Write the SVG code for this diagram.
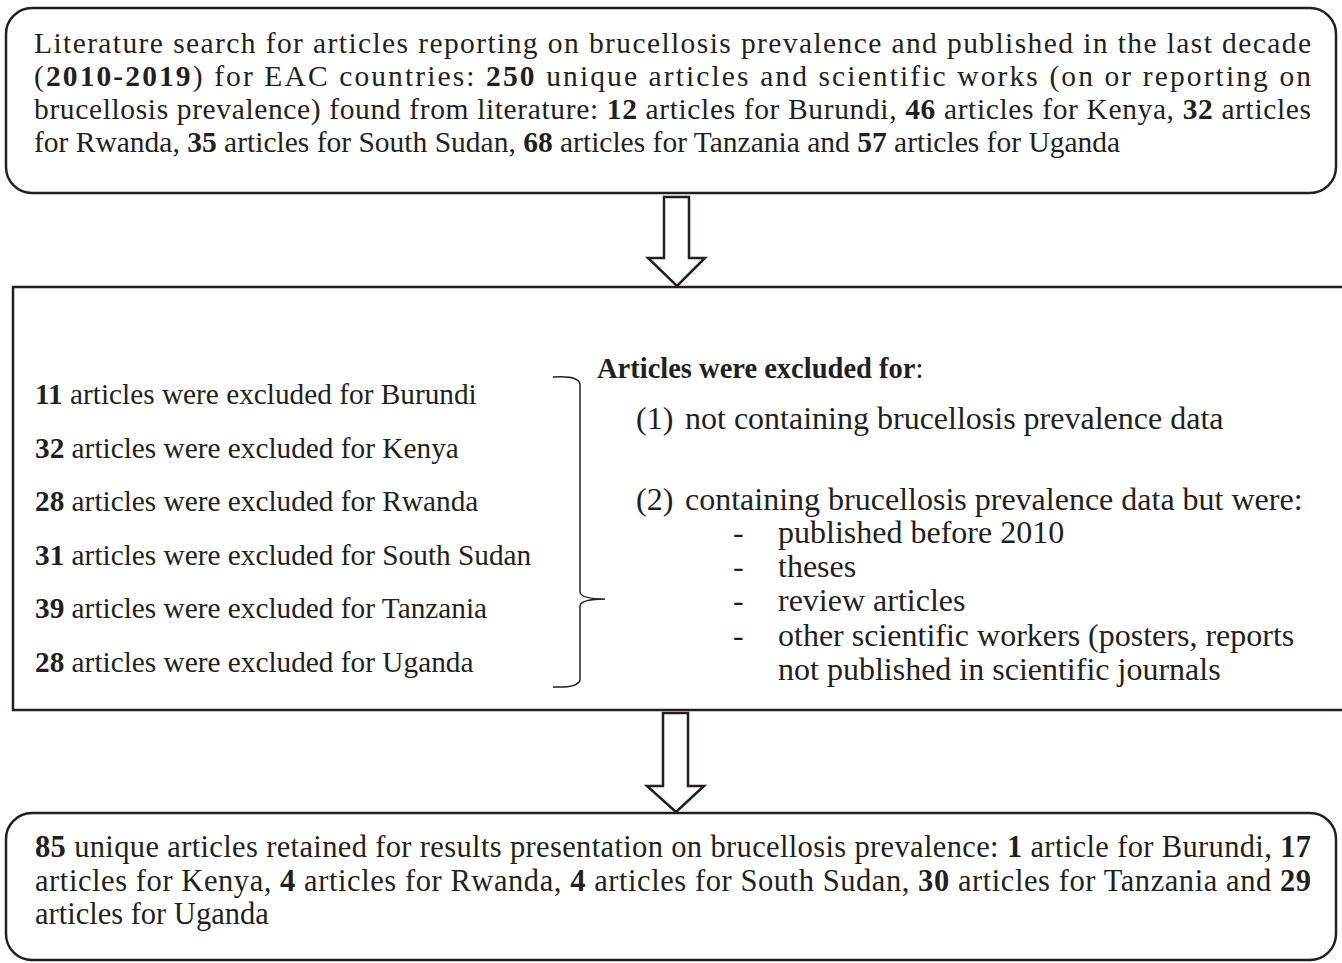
<svg xmlns="http://www.w3.org/2000/svg" width="1342" height="963" viewBox="0 0 1342 963">
<style>
text{font-family:"Liberation Serif","Times New Roman",serif;font-size:29.5px;fill:#231f20}
.b{font-weight:bold}
.l{font-size:29.3px}
.r{font-size:32px}
.h{font-size:28.5px}
.bt{font-size:30.5px}
.box{fill:#fff;stroke:#231f20;stroke-width:2.5}
.arr{fill:#fff;stroke:#231f20;stroke-width:2.5;stroke-linejoin:miter}
.brace{fill:none;stroke:#231f20;stroke-width:1.5}
</style>
<rect width="1342" height="963" fill="#fff"/>
<g id="search">
<rect class="box" x="6" y="8" width="1330" height="185" rx="26" ry="26"/>
<text x="34" y="53" textLength="1277" lengthAdjust="spacing">Literature search for articles reporting on brucellosis prevalence and published in the last decade</text>
<text x="34" y="86" textLength="1277" lengthAdjust="spacing">(<tspan class="b">2010-2019</tspan>) for EAC countries: <tspan class="b">250</tspan> unique articles and scientific works (on or reporting on</text>
<text x="34" y="119" textLength="1277" lengthAdjust="spacing">brucellosis prevalence) found from literature: <tspan class="b">12</tspan> articles for Burundi, <tspan class="b">46</tspan> articles for Kenya, <tspan class="b">32</tspan> articles</text>
<text x="34" y="152">for Rwanda, <tspan class="b">35</tspan> articles for South Sudan, <tspan class="b">68</tspan> articles for Tanzania and <tspan class="b">57</tspan> articles for Uganda</text>
</g>
<g id="excluded">
<rect class="box" x="13" y="287" width="1340" height="423"/>
<text class="l" x="35" y="404"><tspan class="b">11</tspan> articles were excluded for Burundi</text>
<text class="l" x="35" y="458"><tspan class="b">32</tspan> articles were excluded for Kenya</text>
<text class="l" x="35" y="511"><tspan class="b">28</tspan> articles were excluded for Rwanda</text>
<text class="l" x="35" y="565"><tspan class="b">31</tspan> articles were excluded for South Sudan</text>
<text class="l" x="35" y="618"><tspan class="b">39</tspan> articles were excluded for Tanzania</text>
<text class="l" x="35" y="672"><tspan class="b">28</tspan> articles were excluded for Uganda</text>
<path class="brace" d="M553 377 Q578 375 580 384 L580 592 Q581 599 605 599 Q581 599 580 606 L580 680 Q578 688 553 687"/>
<text class="h" x="597" y="378"><tspan class="b">Articles were excluded for</tspan>:</text>
<text class="r" x="636" y="429">(1)</text>
<text class="r" x="685" y="429">not containing brucellosis prevalence data</text>
<text class="r" x="636" y="510">(2)</text>
<text class="r" x="685" y="510">containing brucellosis prevalence data but were:</text>
<text class="r" x="733" y="543">-</text>
<text class="r" x="778" y="543">published before 2010</text>
<text class="r" x="733" y="577">-</text>
<text class="r" x="778" y="577">theses</text>
<text class="r" x="733" y="611">-</text>
<text class="r" x="778" y="611">review articles</text>
<text class="r" x="733" y="646">-</text>
<text class="r" x="778" y="646">other scientific workers (posters, reports</text>
<text class="r" x="778" y="680">not published in scientific journals</text>
</g>
<g id="retained">
<rect class="box" x="6" y="813" width="1330" height="147" rx="26" ry="26"/>
<text class="bt" x="35" y="857" textLength="1276" lengthAdjust="spacing"><tspan class="b">85</tspan> unique articles retained for results presentation on brucellosis prevalence: <tspan class="b">1</tspan> article for Burundi, <tspan class="b">17</tspan></text>
<text class="bt" x="35" y="891" textLength="1276" lengthAdjust="spacing">articles for Kenya, <tspan class="b">4</tspan> articles for Rwanda, <tspan class="b">4</tspan> articles for South Sudan, <tspan class="b">30</tspan> articles for Tanzania and <tspan class="b">29</tspan></text>
<text class="bt" x="35" y="924">articles for Uganda</text>
</g>
<g id="connectors">
<path class="arr" d="M664 197 L689 197 L689 258 L705 258 L677 286 L648 258 L664 258 Z"/>
<path class="arr" d="M663 713 L688 713 L688 786 L704 786 L676 812 L647 786 L663 786 Z"/>
</g>
</svg>
